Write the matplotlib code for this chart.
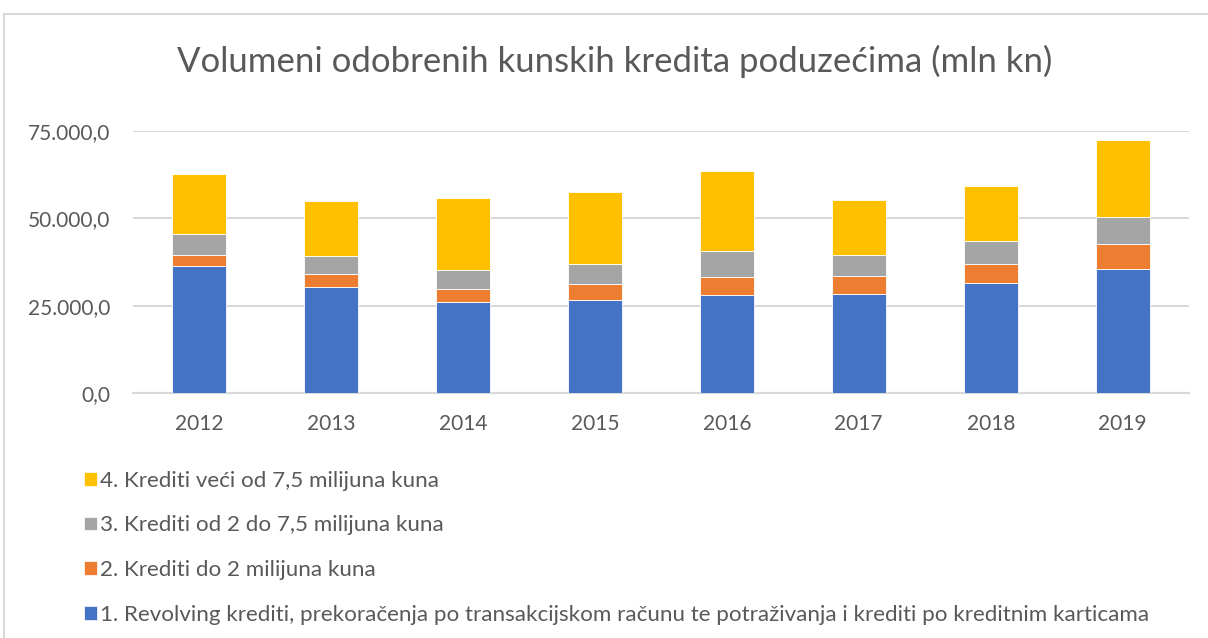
import matplotlib.pyplot as plt
from matplotlib.patches import Patch
from matplotlib.lines import Line2D
from matplotlib.ticker import FuncFormatter

plt.rcParams['font.family'] = ['Lato', 'DejaVu Sans']

# podaci (mln kn), očitano s grafikona
godine = ['2012', '2013', '2014', '2015', '2016', '2017', '2018', '2019']
revolving = [36400, 30200, 26100, 26500, 28170, 28460, 31430, 35510]
do_2_mil = [3140, 3900, 3600, 4760, 5060, 5140, 5510, 7230]
od_2_do_7_5 = [6000, 5140, 5540, 5520, 7340, 5910, 6570, 7630]
veci_7_5 = [17150, 15720, 20470, 20770, 23030, 15630, 15630, 22000]

nazivi = [
    '1. Revolving krediti, prekoračenja po transakcijskom računu te potraživanja i krediti po kreditnim karticama',
    '2. Krediti do 2 milijuna kuna',
    '3. Krediti od 2 do 7,5 milijuna kuna',
    '4. Krediti veći od 7,5 milijuna kuna',
]
boje = ['#4472C4', '#ED7D31', '#A5A5A5', '#FFC000']
tekst_boja = '#595959'
grid_boja = '#D9D9D9'

fig = plt.figure(figsize=(12.08, 6.38), dpi=100)
ax = fig.add_axes([0.110, 0.384, 0.874, 0.411])

x = range(len(godine))
dno = [0] * len(godine)
for serija, boja in zip([revolving, do_2_mil, od_2_do_7_5, veci_7_5], boje):
    ax.bar(x, serija, bottom=dno, width=0.41, color=boja, edgecolor='white', linewidth=0.6, zorder=3)
    dno = [a + b for a, b in zip(dno, serija)]

ax.set_xlim(-0.5, len(godine) - 0.5)
ax.set_ylim(0, 75000)
ax.set_yticks([0, 25000, 50000, 75000])
ax.yaxis.set_major_formatter(FuncFormatter(lambda v, p: f'{v:,.1f}'.replace(',', 'X').replace('.', ',').replace('X', '.')))
ax.set_xticks(list(x))
ax.set_xticklabels(godine)
ax.tick_params(axis='both', length=0, labelsize=15, labelcolor=tekst_boja)
ax.tick_params(axis='y', pad=16)
ax.tick_params(axis='x', pad=15)
ax.grid(axis='y', color=grid_boja, linewidth=1.5, zorder=0)
for s in ['top', 'right', 'left']:
    ax.spines[s].set_visible(False)
ax.spines['bottom'].set_color(grid_boja)
ax.spines['bottom'].set_linewidth(1.5)

fig.text(0.509, 0.903, 'Volumeni odobrenih kunskih kredita poduzećima (mln kn)',
         ha='center', va='center', fontsize=25, color=tekst_boja)

rucke = [Patch(facecolor=b, edgecolor='white', linewidth=0.5) for b in boje]
leg = fig.legend(rucke[::-1], nazivi[::-1], loc='upper left', bbox_to_anchor=(0.062, 0.276),
                 frameon=False, fontsize=16.1, labelcolor=tekst_boja, labelspacing=1.1,
                 handlelength=0.57, handleheight=0.57, handletextpad=0.15, borderaxespad=0)

# okvir grafikona
fig.add_artist(Line2D([0.0033, 0.0033], [0, 0.978], color=grid_boja, linewidth=1.5))
fig.add_artist(Line2D([0.0033, 1], [0.978, 0.978], color=grid_boja, linewidth=1.5))

fig.savefig('out.png', dpi=100)
